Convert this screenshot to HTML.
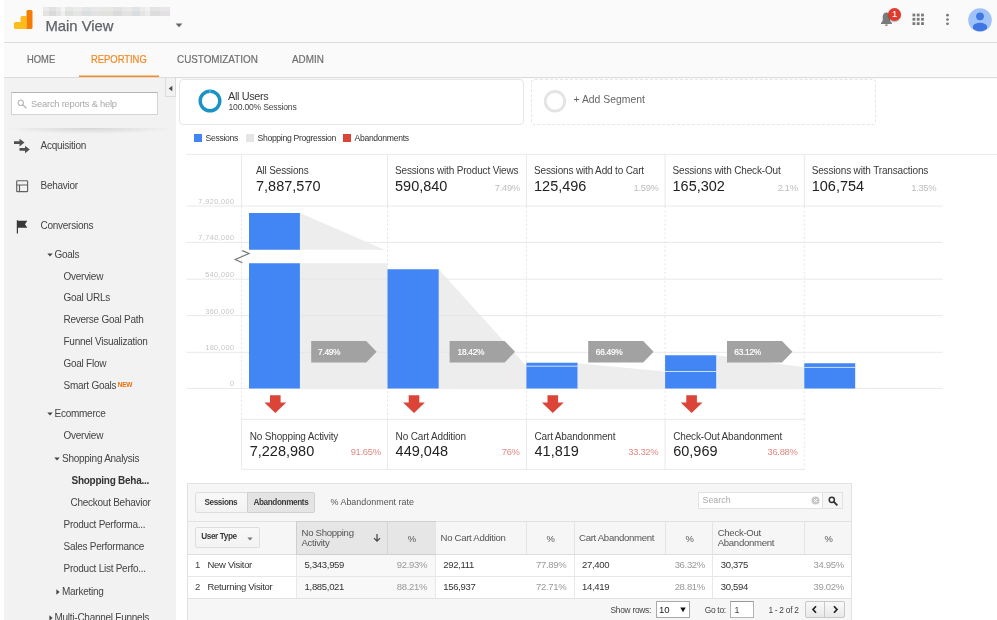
<!DOCTYPE html>
<html lang="en">
<head>
<meta charset="utf-8">
<title>Shopping Behavior Analysis</title>
<style>
*{box-sizing:border-box;margin:0;padding:0}
html,body{width:997px;height:620px;overflow:hidden;background:#fff}
body{position:relative;font-family:"Liberation Sans",Arial,sans-serif;font-size:9.7px;color:#444}
.a{position:absolute;white-space:nowrap}
.t{position:absolute;white-space:nowrap;line-height:12px}
#hdr{left:4px;top:0;width:993px;height:42px;background:#fafafa}
#hdrline{left:4px;top:42px;width:993px;height:1px;background:#dcdcdc}
#nav{left:4px;top:43px;width:993px;height:34px;background:#fafafa}
#navline{left:4px;top:77px;width:993px;height:1px;background:#dcdcdc;box-shadow:0 1px 1px rgba(0,0,0,.035)}
.nv{top:52px;font-size:10.5px;color:#6f6f6f;line-height:14px;-webkit-text-stroke:.2px #6f6f6f;transform-origin:0 50%}
#side{left:4px;top:78px;width:172px;height:542px;background:#f2f2f2}
.s{font-size:10px;color:#444;line-height:12px;letter-spacing:-.26px}
.lab{font-size:10px;color:#3a3a3a;line-height:12px;letter-spacing:-.16px}
.big{font-size:14.5px;color:#222;line-height:16px;transform:scaleY(1.06);transform-origin:0 80%}
.pc{font-size:9.4px;color:#bdbdbd;line-height:10px;letter-spacing:-.3px;transform:scaleY(1.05);transform-origin:0 80%}
.pr{font-size:9.4px;color:#e08a84;line-height:10px;letter-spacing:-.3px;transform:scaleY(1.05);transform-origin:0 80%}
.yl{font-size:7.3px;color:#c6c6c6;line-height:10px;text-align:right;width:50px;letter-spacing:.4px}
.th{font-size:9.6px;color:#555;line-height:10px;letter-spacing:-.3px}
.td{font-size:9.5px;color:#333;line-height:12px;letter-spacing:-.31px}
.tp{font-size:9.5px;color:#999;line-height:12px;letter-spacing:-.31px}
.pg{font-size:8.4px;color:#444;line-height:10px;letter-spacing:-.28px}
</style>
</head>
<body>
<div class="a" id="hdr"></div>
<div class="a" id="hdrline"></div>
<div class="a" id="nav"></div>
<div class="a" id="navline"></div>
<!-- logo -->
<svg class="a" style="left:13px;top:9px" width="21" height="21" viewBox="0 0 21 21">
  <path d="M1 14.5q0-1.5 1.500-1.500H7.500V8.500q0-1.500 1.500-1.500H13.500V20H2.500q-1.500 0-1.500-1.500z" fill="#fbbc1c"/>
  <path d="M13.500 2.500q0-1.500 1.500-1.500H18q1.500 0 1.500 1.500V18.500q0 1.500-1.500 1.500H13.500z" fill="#f57c00"/>
</svg>
<div class="a" style="left:43px;top:7px;width:127px;height:9px;background:linear-gradient(rgba(255,255,255,.1) 0 50%,rgba(0,0,0,.02) 50%),linear-gradient(90deg,#e8e8e8 0 5%,#dfdddf 5% 10%,#e7e7e7 10% 14%,#f4f4f4 14% 17%,#e2e4e2 17% 24%,#e9e9e9 24% 31%,#e0e3e3 31% 38%,#e7e7e7 38% 46%,#e5e5e1 46% 55%,#dfdfe2 55% 62%,#e7e7e7 62% 70%,#dee1e3 70% 76%,#e9e9e9 76% 80%,#f0f0f0 80% 84%,#e1e1e1 84% 92%,#e7e4e7 92% 100%)"></div>
<div class="t" style="left:45.500px;top:17px;font-size:14.800px;line-height:18px;color:#5f6368;-webkit-text-stroke:.25px #5f6368">Main View</div>
<svg class="a" style="left:175px;top:23px" width="8" height="5" viewBox="0 0 8 5"><path d="M.6.600h6.800L4 4.200z" fill="#666"/></svg>
<div class="t nv" style="left:26.800px;transform:scaleX(.895)">HOME</div>
<div class="t nv" style="left:91px;color:#f5871f;-webkit-text-stroke:.2px #f5871f;transform:scaleX(.895)">REPORTING</div>
<div class="t nv" style="left:176.500px;transform:scaleX(.94)">CUSTOMIZATION</div>
<div class="t nv" style="left:291.500px;transform:scaleX(.94)">ADMIN</div>
<div class="a" style="left:79px;top:75px;width:80px;height:2px;background:linear-gradient(#fac48e 0 30%,#f68a1e 30%)"></div>
<!-- bell -->
<svg class="a" style="left:879px;top:11px" width="16" height="17" viewBox="0 0 16 17">
  <path d="M7.400 1.600c-2.300 0-3.700 1.900-3.700 4.500v3.600L2 12v1h10.900v-1l-1.800-2.300V6.100c0-2.600-1.400-4.500-3.700-4.500z" fill="#7b7b7b"/>
  <path d="M6 13.400h2.800a1.400 1.600 0 0 1-2.800 0z" fill="#7b7b7b"/>
</svg>
<div class="a" style="left:888px;top:7.500px;width:13px;height:13px;border-radius:50%;background:#e0392d;box-shadow:0 1px 1.500px rgba(0,0,0,.3)"></div>
<div class="t" style="left:888px;top:8px;width:13px;text-align:center;font-size:9.300px;line-height:12px;color:#fff;-webkit-text-stroke:.12px #fff">1</div>
<!-- apps grid -->
<svg class="a" style="left:912px;top:13px" width="13" height="13" viewBox="0 0 13 13" fill="#7a7a7a">
  <rect x=".5" y=".6" width="2.800" height="2.800"/><rect x="4.800" y=".6" width="2.800" height="2.800"/><rect x="9.100" y=".6" width="2.800" height="2.800"/>
  <rect x=".5" y="4.900" width="2.800" height="2.800"/><rect x="4.800" y="4.900" width="2.800" height="2.800"/><rect x="9.100" y="4.900" width="2.800" height="2.800"/>
  <rect x=".5" y="9.200" width="2.800" height="2.800"/><rect x="4.800" y="9.200" width="2.800" height="2.800"/><rect x="9.100" y="9.200" width="2.800" height="2.800"/>
</svg>
<svg class="a" style="left:945px;top:13px" width="5" height="13" viewBox="0 0 5 13" fill="#757575">
  <circle cx="2.500" cy="2.200" r="1.350"/><circle cx="2.500" cy="6.500" r="1.350"/><circle cx="2.500" cy="10.800" r="1.350"/>
</svg>
<!-- avatar -->
<svg class="a" style="left:968px;top:7.500px" width="24" height="24" viewBox="0 0 24 24">
  <defs><clipPath id="avc"><circle cx="12" cy="12" r="11.800"/></clipPath></defs>
  <circle cx="12" cy="12" r="11.800" fill="#a0c2fa"/>
  <g clip-path="url(#avc)" fill="#4076e2">
    <circle cx="12" cy="8.300" r="3.900"/>
    <path d="M4.800 19.200c0-3.200 4.800-4.400 7.200-4.400s7.200 1.200 7.200 4.400c0 2.400-3.600 4-7.200 4s-7.200-1.600-7.200-4z"/>
  </g>
</svg>
<div class="a" id="side"></div>
<!-- collapse handle -->
<div class="a" style="left:165px;top:78px;width:11px;height:19px;background:#f2f2f2;border:1px solid #dcdcdc;border-top:0"></div>
<svg class="a" style="left:167.500px;top:84.500px" width="5" height="7" viewBox="0 0 5 7"><path d="M4.300.800v5.400L.7 3.500z" fill="#4a4a4a"/></svg>
<!-- search -->
<div class="a" style="left:11px;top:92px;width:147px;height:23px;background:#fff;border:1px solid #d4d4d4;border-top-color:#b4b4b4"></div>
<svg class="a" style="left:16.500px;top:99px" width="10" height="10" viewBox="0 0 10 10"><circle cx="3.800" cy="3.800" r="2.700" fill="none" stroke="#bbb" stroke-width="1.200"/><path d="M5.800 5.800L9 9" stroke="#bbb" stroke-width="1.400" stroke-linecap="round"/></svg>
<div class="t s" style="left:31px;top:98px;color:#aaa;font-size:9.400px;letter-spacing:-.23px">Search reports &amp; help</div>
<div class="a" style="left:4px;top:128px;width:170px;height:6px;background:radial-gradient(ellipse 50% 100% at 50% 0,rgba(0,0,0,.12),rgba(0,0,0,0) 100%)"></div>
<!-- icons -->
<svg class="a" style="left:13px;top:138px" width="18" height="16" viewBox="0 0 18 16" fill="#505050">
  <path d="M1 3.300h5.500V.7l5 3.900-5 3.900V5.900H1z"/>
  <path d="M6.500 10.100h5.500V7.700l4.800 3.700-4.800 3.800V12.700H6.500z"/>
</svg>
<svg class="a" style="left:15px;top:179px" width="14" height="14" viewBox="0 0 14 14" fill="none" stroke="#606060" stroke-width="1.150">
  <rect x="1.700" y="1.700" width="10.900" height="10.900" rx=".7"/><path d="M1.700 6h10.900M4.500 6v6.600"/>
</svg>
<svg class="a" style="left:15px;top:219px" width="14" height="15" viewBox="0 0 14 15" fill="#383838">
  <path d="M1.800 1.200h1.200v13.200H1.800z"/><path d="M3 1.700h9.300l-2.300 3.500 2.300 3.600H3z"/>
</svg>
<div class="t s" style="left:40.500px;top:139.500px">Acquisition</div>
<div class="t s" style="left:40.500px;top:179.500px">Behavior</div>
<div class="t s" style="left:40.500px;top:219.500px">Conversions</div>
<!-- tree -->
<svg class="a" style="left:47px;top:252.500px" width="6" height="4" viewBox="0 0 6 4"><path d="M.3.400h5.400L3 3.600z" fill="#444"/></svg>
<div class="t s" style="left:54.500px;top:249px">Goals</div>
<div class="t s" style="left:63.500px;top:271px">Overview</div>
<div class="t s" style="left:63.500px;top:292px">Goal URLs</div>
<div class="t s" style="left:63.500px;top:314px">Reverse Goal Path</div>
<div class="t s" style="left:63.500px;top:336px">Funnel Visualization</div>
<div class="t s" style="left:63.500px;top:358px">Goal Flow</div>
<div class="t s" style="left:63.500px;top:379.500px">Smart Goals<span style="font-size:6.500px;font-weight:bold;color:#e8710a;position:relative;top:-1.500px;margin-left:1.500px">NEW</span></div>
<svg class="a" style="left:47px;top:411.500px" width="6" height="4" viewBox="0 0 6 4"><path d="M.3.400h5.400L3 3.600z" fill="#444"/></svg>
<div class="t s" style="left:54.500px;top:407.500px">Ecommerce</div>
<div class="t s" style="left:63.500px;top:429.500px">Overview</div>
<svg class="a" style="left:54px;top:457px" width="6" height="4" viewBox="0 0 6 4"><path d="M.3.400h5.400L3 3.600z" fill="#444"/></svg>
<div class="t s" style="left:62px;top:452.500px">Shopping Analysis</div>
<div class="t s" style="left:71.500px;top:474.500px;font-weight:bold;color:#333">Shopping Beha...</div>
<div class="t s" style="left:70.500px;top:496.500px">Checkout Behavior</div>
<div class="t s" style="left:63.500px;top:518.500px">Product Performa...</div>
<div class="t s" style="left:63.500px;top:540.500px">Sales Performance</div>
<div class="t s" style="left:63.500px;top:562.500px">Product List Perfo...</div>
<svg class="a" style="left:56px;top:588.500px" width="4" height="6" viewBox="0 0 4 6"><path d="M.4.300v5.400L3.600 3z" fill="#444"/></svg>
<div class="t s" style="left:62px;top:585.500px">Marketing</div>
<svg class="a" style="left:49px;top:614.500px" width="4" height="6" viewBox="0 0 4 6"><path d="M.4.300v5.400L3.600 3z" fill="#444"/></svg>
<div class="t s" style="left:54.500px;top:611.500px">Multi-Channel Funnels</div>
<div class="a" style="left:179px;top:78.500px;width:345px;height:46px;background:#fff;border:1px solid #e6e6e6;border-radius:4px"></div>
<svg class="a" style="left:196.900px;top:88.400px" width="26" height="26" viewBox="0 0 26 26"><circle cx="13" cy="13" r="9.800" fill="none" stroke="#1a93c4" stroke-width="3.400"/><path d="M13 1.200v4" stroke="#7cc3e0" stroke-width="1"/></svg>
<div class="t" style="left:228px;top:90px;font-size:10.900px;letter-spacing:-.36px;color:#383838">All Users</div>
<div class="t" style="left:228.500px;top:101px;font-size:8.600px;letter-spacing:-.2px;color:#444">100.00% Sessions</div>
<div class="a" style="left:531px;top:78.500px;width:345px;height:46px;background:#fff;border:1px dashed #e6e6e6;border-radius:4px"></div>
<svg class="a" style="left:542px;top:88px" width="26" height="26" viewBox="0 0 26 26"><circle cx="13" cy="13.300" r="9.800" fill="none" stroke="#e4e4e4" stroke-width="2.800"/></svg>
<div class="t" style="left:573.500px;top:94px;font-size:10.400px;color:#666">+ Add Segment</div>
<div class="a" style="left:194px;top:134px;width:8px;height:8px;background:#4285f4"></div>
<div class="t" style="left:205.500px;top:132px;font-size:8.600px;letter-spacing:-.3px;color:#333">Sessions</div>
<div class="a" style="left:246px;top:134px;width:8px;height:8px;background:#e4e4e4"></div>
<div class="t" style="left:257.500px;top:132px;font-size:8.600px;letter-spacing:-.3px;color:#333">Shopping Progression</div>
<div class="a" style="left:343px;top:134px;width:8px;height:8px;background:#db4437"></div>
<div class="t" style="left:354.500px;top:132px;font-size:8.600px;letter-spacing:-.3px;color:#333">Abandonments</div>
<svg class="a" style="left:0;top:0" width="997" height="620" viewBox="0 0 997 620">
<path d="M186.500 154.400H997" stroke="#ebebeb" stroke-width="1" fill="none"/>
<path d="M186.500 206.1H942.800" stroke="#e9e9e9" stroke-width="1" fill="none"/>
<path d="M186.500 242.4H942.800" stroke="#e9e9e9" stroke-width="1" fill="none"/>
<path d="M186.500 279.2H942.800" stroke="#e9e9e9" stroke-width="1" fill="none"/>
<path d="M186.500 315.6H942.800" stroke="#e9e9e9" stroke-width="1" fill="none"/>
<path d="M186.500 352.3H942.800" stroke="#e9e9e9" stroke-width="1" fill="none"/>
<path d="M186.500 388.4H942.800" stroke="#e9e9e9" stroke-width="1" fill="none"/>
<path d="M241.6 154.400V206" stroke="#e9e9e9" stroke-width="1" fill="none"/>
<path d="M241.6 206V419.400" stroke="#e6e6e6" stroke-width="1" stroke-dasharray="2.200 2.200" fill="none"/>
<path d="M387.5 154.400V206" stroke="#e9e9e9" stroke-width="1" fill="none"/>
<path d="M387.5 206V419.400" stroke="#e6e6e6" stroke-width="1" stroke-dasharray="2.200 2.200" fill="none"/>
<path d="M526.4 154.400V206" stroke="#e9e9e9" stroke-width="1" fill="none"/>
<path d="M526.4 206V419.400" stroke="#e6e6e6" stroke-width="1" stroke-dasharray="2.200 2.200" fill="none"/>
<path d="M665.1 154.400V206" stroke="#e9e9e9" stroke-width="1" fill="none"/>
<path d="M665.1 206V419.400" stroke="#e6e6e6" stroke-width="1" stroke-dasharray="2.200 2.200" fill="none"/>
<path d="M804.3 154.400V206" stroke="#e9e9e9" stroke-width="1" fill="none"/>
<path d="M804.3 206V419.400" stroke="#e6e6e6" stroke-width="1" stroke-dasharray="2.200 2.200" fill="none"/>
<path d="M299.900 213L384.500 249.700H299.900z" fill="#ededed"/>
<path d="M299.900 263.300H387.500V388.400H299.900z" fill="#ededed"/>
<path d="M438.700 269.300L526.400 366V388.400H438.700z" fill="#ededed"/>
<path d="M577.500 363.200L665.100 371.600V388.400H577.500z" fill="#ededed"/>
<path d="M716.200 355.300L804.300 367.300V388.400H716.200z" fill="#ededed"/>
<path d="M299.900 279.200H387.500M299.900 315.600H387.500M299.900 352.300H387.500M438.700 279.200H448M438.700 315.600H481M438.700 352.300H514" stroke="#e6e6e6" stroke-width="1" fill="none"/>
<path d="M249 213H299.900V249.700H249zM249 263.300H299.900V388.500H249z" fill="#4285f4"/>
<path d="M387.500 269.300H438.700V388.500H387.500z" fill="#4285f4"/>
<path d="M526.400 362.800H577.500V388.500H526.400z" fill="#4285f4"/>
<path d="M665.100 355.300H716.200V388.500H665.100z" fill="#4285f4"/>
<path d="M804.300 363.300H855.200V388.500H804.300z" fill="#4285f4"/>
<path d="M526.400 366.200H577.500M665.100 371.500H716.200M804.300 367.400H855.200" stroke="#dfeafc" stroke-width=".9" fill="none"/>
<path d="M242.300 250.600L249 253.500 235.300 259.500 242.300 262.700" stroke="#777" stroke-width="1.200" fill="none"/>
<path d="M311.2 341h55l10.400 10.800-10.400 10.800h-55z" fill="#a2a2a2"/>
<path d="M449.6 341h55l10.400 10.800-10.400 10.800h-55z" fill="#a2a2a2"/>
<path d="M588.2 341h55l10.400 10.800-10.400 10.800h-55z" fill="#a2a2a2"/>
<path d="M727.0 341h55l10.400 10.800-10.400 10.800h-55z" fill="#a2a2a2"/>
<path d="M270.0 395.300h10.600v7.200h5.600l-10.900 10.500-10.900-10.500h5.600z" fill="#db4437"/>
<path d="M408.7 395.300h10.600v7.200h5.600l-10.900 10.500-10.900-10.500h5.600z" fill="#db4437"/>
<path d="M547.5 395.300h10.600v7.200h5.600l-10.900 10.500-10.900-10.500h5.600z" fill="#db4437"/>
<path d="M686.3 395.300h10.600v7.200h5.600l-10.900 10.500-10.900-10.500h5.600z" fill="#db4437"/>
<path d="M241.600 419.400H804.300M241.600 469.400H804.300" stroke="#e9e9e9" stroke-width="1" fill="none"/>
<path d="M241.6 419.400V469" stroke="#e9e9e9" stroke-width="1" fill="none"/>
<path d="M387.5 419.400V469" stroke="#e9e9e9" stroke-width="1" fill="none"/>
<path d="M526.4 419.400V469" stroke="#e9e9e9" stroke-width="1" fill="none"/>
<path d="M665.1 419.400V469" stroke="#e9e9e9" stroke-width="1" fill="none"/>
<path d="M804.300 419.400V469" stroke="#e6e6e6" stroke-width="1" stroke-dasharray="2.200 2.200" fill="none"/>
</svg>
<div class="t yl" style="left:184.400px;top:197px">7,920,000</div>
<div class="t yl" style="left:184.400px;top:233px">7,740,000</div>
<div class="t yl" style="left:184.400px;top:270px">540,000</div>
<div class="t yl" style="left:184.400px;top:307px">360,000</div>
<div class="t yl" style="left:184.400px;top:343px">180,000</div>
<div class="t yl" style="left:184.400px;top:379px">0</div>
<div class="t lab" style="left:256.0px;top:165px">All Sessions</div>
<div class="t big" style="left:256.0px;top:177.700px">7,887,570</div>
<div class="t lab" style="left:395.0px;top:165px">Sessions with Product Views</div>
<div class="t big" style="left:395.0px;top:177.700px">590,840</div>
<div class="t pc" style="right:477.1px;top:182.500px">7.49%</div>
<div class="t lab" style="left:534.0px;top:165px">Sessions with Add to Cart</div>
<div class="t big" style="left:534.0px;top:177.700px">125,496</div>
<div class="t pc" style="right:338.4px;top:182.500px">1.59%</div>
<div class="t lab" style="left:672.5px;top:165px">Sessions with Check-Out</div>
<div class="t big" style="left:672.5px;top:177.700px">165,302</div>
<div class="t pc" style="right:199.2px;top:182.500px">2.1%</div>
<div class="t lab" style="left:811.7px;top:165px">Sessions with Transactions</div>
<div class="t big" style="left:811.7px;top:177.700px">106,754</div>
<div class="t pc" style="right:60.7px;top:182.500px">1.35%</div>
<div class="t" style="left:318.0px;top:346.800px;font-size:8.400px;letter-spacing:-.3px;line-height:10px;color:#fff;-webkit-text-stroke:.2px #fff">7.49%</div>
<div class="t" style="left:457.6px;top:346.800px;font-size:8.400px;letter-spacing:-.3px;line-height:10px;color:#fff;-webkit-text-stroke:.2px #fff">18.42%</div>
<div class="t" style="left:595.8px;top:346.800px;font-size:8.400px;letter-spacing:-.3px;line-height:10px;color:#fff;-webkit-text-stroke:.2px #fff">66.49%</div>
<div class="t" style="left:734.3px;top:346.800px;font-size:8.400px;letter-spacing:-.3px;line-height:10px;color:#fff;-webkit-text-stroke:.2px #fff">63.12%</div>
<div class="t lab" style="left:249.7px;top:431px">No Shopping Activity</div>
<div class="t big" style="left:249.7px;top:442.500px">7,228,980</div>
<div class="t pr" style="right:616.3px;top:447.300px">91.65%</div>
<div class="t lab" style="left:395.6px;top:431px">No Cart Addition</div>
<div class="t big" style="left:395.6px;top:442.500px">449,048</div>
<div class="t pr" style="right:477.4px;top:447.300px">76%</div>
<div class="t lab" style="left:534.5px;top:431px">Cart Abandonment</div>
<div class="t big" style="left:534.5px;top:442.500px">41,819</div>
<div class="t pr" style="right:338.7px;top:447.300px">33.32%</div>
<div class="t lab" style="left:673.2px;top:431px">Check-Out Abandonment</div>
<div class="t big" style="left:673.2px;top:442.500px">60,969</div>
<div class="t pr" style="right:199.5px;top:447.300px">36.88%</div>
<div class="a" style="left:187px;top:482.500px;width:665px;height:140px;background:#f6f6f6;border:1px solid #e2e2e2"></div>
<div class="a" style="left:194.500px;top:491.500px;width:53px;height:21.500px;background:linear-gradient(#f8f8f8,#f3f3f3);border:1px solid #dedede;border-radius:2px 0 0 2px"></div>
<div class="a" style="left:246.500px;top:491.500px;width:68.500px;height:21.500px;background:#e4e4e4;border:1px solid #d0d0d0;border-radius:0 2px 2px 0"></div>
<div class="t" style="left:204.500px;top:497px;font-size:8.200px;letter-spacing:-.4px;font-weight:bold;color:#3a3a3a">Sessions</div>
<div class="t" style="left:253.500px;top:497px;font-size:8.200px;letter-spacing:-.4px;font-weight:bold;color:#3a3a3a">Abandonments</div>
<div class="t" style="left:330.500px;top:496px;font-size:8.950px;color:#555">% Abandonment rate</div>
<div class="a" style="left:698px;top:492px;width:145px;height:17px;background:#fff;border:1px solid #e2e2e2"></div>
<div class="a" style="left:822px;top:492px;width:21px;height:17px;background:#f6f6f6;border:1px solid #e2e2e2"></div>
<div class="t" style="left:702.500px;top:494.300px;font-size:8.900px;color:#aaa">Search</div>
<svg class="a" style="left:811px;top:496px" width="9" height="9" viewBox="0 0 9 9"><circle cx="4.500" cy="4.500" r="4" fill="#c8c8c8"/><path d="M3 3l3 3M6 3l-3 3" stroke="#fff" stroke-width="1"/></svg>
<svg class="a" style="left:827.500px;top:495.500px" width="10" height="10" viewBox="0 0 10 10"><circle cx="3.800" cy="3.800" r="2.600" fill="none" stroke="#333" stroke-width="1.500"/><path d="M5.900 5.900L8.800 8.800" stroke="#333" stroke-width="1.900" stroke-linecap="round"/></svg>
<div class="a" style="left:188px;top:521px;width:663px;height:33.500px;background:#f6f6f6;border-top:1px solid #e2e2e2;border-bottom:1px solid #dedede"></div>
<div class="a" style="left:296px;top:521px;width:140px;height:33.500px;background:#e6e6e6;border:1px solid #cfcfcf"></div>
<div class="a" style="left:387.200px;top:521.500px;width:1px;height:32.500px;background:#d4d4d4"></div>
<div class="a" style="left:188px;top:554.500px;width:663px;height:44px;background:#fff;border-bottom:1px solid #e2e2e2"></div>
<div class="a" style="left:296.500px;top:554.500px;width:139px;height:43px;background:#f8f8f8"></div>
<div class="a" style="left:188px;top:575.800px;width:663px;height:1px;background:#e6e6e6"></div>
<div class="a" style="left:295.9px;top:554.500px;width:1px;height:43px;background:#e8e8e8"></div>
<div class="a" style="left:435.0px;top:554.500px;width:1px;height:43px;background:#e8e8e8"></div>
<div class="a" style="left:574.0px;top:554.500px;width:1px;height:43px;background:#e8e8e8"></div>
<div class="a" style="left:711.9px;top:554.500px;width:1px;height:43px;background:#e8e8e8"></div>
<div class="a" style="left:435.0px;top:522px;width:1px;height:32px;background:#e4e4e4"></div>
<div class="a" style="left:526.1px;top:522px;width:1px;height:32px;background:#e4e4e4"></div>
<div class="a" style="left:574.0px;top:522px;width:1px;height:32px;background:#e4e4e4"></div>
<div class="a" style="left:664.8px;top:522px;width:1px;height:32px;background:#e4e4e4"></div>
<div class="a" style="left:711.9px;top:522px;width:1px;height:32px;background:#e4e4e4"></div>
<div class="a" style="left:803.9px;top:522px;width:1px;height:32px;background:#e4e4e4"></div>
<div class="a" style="left:194.500px;top:527px;width:65.500px;height:21px;background:linear-gradient(#f8f8f8,#f3f3f3);border:1px solid #dedede;border-radius:2px"></div>
<div class="t" style="left:201.300px;top:531px;font-size:8.200px;letter-spacing:-.4px;font-weight:bold;color:#3a3a3a">User Type</div>
<svg class="a" style="left:247px;top:536.500px" width="6" height="4" viewBox="0 0 6 4"><path d="M.4.400h5.200L3 3.500z" fill="#777"/></svg>
<div class="t th" style="left:301.500px;top:527.500px">No Shopping<br>Activity</div>
<svg class="a" style="left:372px;top:533px" width="10" height="10" viewBox="0 0 10 10"><path d="M5 1v7M2 5.200l3 3 3-3" stroke="#444" stroke-width="1.200" fill="none"/></svg>
<div class="t th" style="left:407.700px;top:534px;font-size:9.400px;letter-spacing:0">%</div>
<div class="t th" style="left:440.500px;top:533px">No Cart Addition</div>
<div class="t th" style="left:546.400px;top:534px;font-size:9.400px;letter-spacing:0">%</div>
<div class="t th" style="left:579px;top:533px">Cart Abandonment</div>
<div class="t th" style="left:685.400px;top:534px;font-size:9.400px;letter-spacing:0">%</div>
<div class="t th" style="left:717.700px;top:527.500px">Check-Out<br>Abandonment</div>
<div class="t th" style="left:824.400px;top:534px;font-size:9.400px;letter-spacing:0">%</div>
<div class="t td" style="left:195px;top:558.8px;color:#444">1</div>
<div class="t td" style="left:207.500px;top:558.8px">New Visitor</div>
<div class="t td" style="left:304.6px;top:558.8px">5,343,959</div>
<div class="t tp" style="right:569.8px;top:558.8px">92.93%</div>
<div class="t td" style="left:443.3px;top:558.8px">292,111</div>
<div class="t tp" style="right:430.7px;top:558.8px">77.89%</div>
<div class="t td" style="left:582.0px;top:558.8px">27,400</div>
<div class="t tp" style="right:292.0px;top:558.8px">36.32%</div>
<div class="t td" style="left:720.7px;top:558.8px">30,375</div>
<div class="t tp" style="right:153.2px;top:558.8px">34.95%</div>
<div class="t td" style="left:195px;top:580.7px;color:#444">2</div>
<div class="t td" style="left:207.500px;top:580.7px">Returning Visitor</div>
<div class="t td" style="left:304.6px;top:580.7px">1,885,021</div>
<div class="t tp" style="right:569.8px;top:580.7px">88.21%</div>
<div class="t td" style="left:443.3px;top:580.7px">156,937</div>
<div class="t tp" style="right:430.7px;top:580.7px">72.71%</div>
<div class="t td" style="left:582.0px;top:580.7px">14,419</div>
<div class="t tp" style="right:292.0px;top:580.7px">28.81%</div>
<div class="t td" style="left:720.7px;top:580.7px">30,594</div>
<div class="t tp" style="right:153.2px;top:580.7px">39.02%</div>
<div class="t pg" style="left:610.500px;top:604.700px">Show rows:</div>
<div class="a" style="left:655.500px;top:601px;width:34.500px;height:17px;background:#fff;border:1px solid #a9a9a9"></div>
<div class="t" style="left:659px;top:603.700px;font-size:9.600px;color:#222">10</div>
<svg class="a" style="left:679.500px;top:606.500px" width="6" height="6" viewBox="0 0 6 6"><path d="M.3.600h5.400L3 5.200z" fill="#111"/></svg>
<div class="t pg" style="left:704.700px;top:604.700px">Go to:</div>
<div class="a" style="left:730px;top:601px;width:23.500px;height:17px;background:#fff;border:1px solid #b4b4b4;border-top-color:#999"></div>
<div class="t" style="left:734.500px;top:603.700px;font-size:8.800px;color:#444">1</div>
<div class="t pg" style="left:768.400px;top:604.700px">1 - 2 of 2</div>
<div class="a" style="left:804.500px;top:601px;width:40.500px;height:16.500px;background:linear-gradient(#fafafa,#e8e8e8);border:1px solid #c8c8c8;border-radius:2px"></div>
<div class="a" style="left:824px;top:601.500px;width:1px;height:15.500px;background:#c8c8c8"></div>
<svg class="a" style="left:811px;top:605px" width="7" height="9" viewBox="0 0 7 9"><path d="M5 1.200L2 4.500 5 7.800" stroke="#222" stroke-width="1.700" fill="none"/></svg>
<svg class="a" style="left:831.500px;top:605px" width="7" height="9" viewBox="0 0 7 9"><path d="M2 1.200L5 4.500 2 7.800" stroke="#222" stroke-width="1.700" fill="none"/></svg>
</body>
</html>
